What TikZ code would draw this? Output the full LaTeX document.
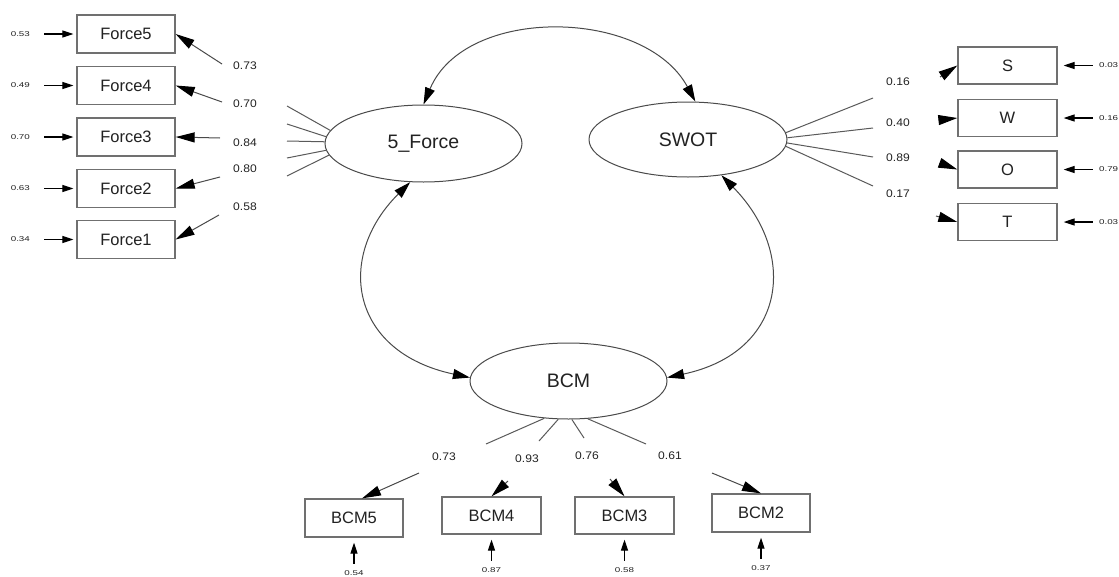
\documentclass[tikz,border=0pt]{standalone}
\usepackage{graphicx}
\usepackage{fontspec}
\setmainfont{Liberation Sans}
\usetikzlibrary{arrows.meta,shapes.geometric,calc}
\definecolor{boxline}{HTML}{707070}
\definecolor{edgeline}{HTML}{4A4A4A}
\definecolor{stubline}{HTML}{5A5A5A}
\definecolor{txt}{HTML}{222222}
\newcommand{\errlab}[1]{\scalebox{1.4}[1]{#1}}
\newcommand{\loadlab}[1]{\scalebox{1.1}[1]{#1}}
\begin{document}
\begin{tikzpicture}[x=1pt,y=-1pt,
  obsbox/.style={draw=boxline, line width=1.3pt, rectangle, minimum width=98pt, minimum height=38pt, inner sep=0pt, text=txt, font=\fontsize{16.5}{18}\selectfont},
  latent/.style={draw=edgeline, line width=1pt, ellipse, minimum width=197pt, minimum height=77pt, inner sep=0pt, text=txt, font=\fontsize{19.5}{21}\selectfont},
  curve/.style={draw=edgeline, line width=1pt, arrows={Triangle[length=17pt,width=10pt,color=black]-Triangle[length=17pt,width=10pt,color=black]}},
  stub/.style={draw=stubline, line width=1pt},
  load/.style={draw=edgeline, line width=1pt, arrows={-Triangle[length=19pt,width=10pt,color=black]}},
  err/.style={draw=black, line width=1.2pt, arrows={-Triangle[length=11pt,width=7pt]}},
  lodlab/.style={inner sep=0pt, text=txt, font=\fontsize{11}{12}\selectfont},
  errlabel/.style={inner sep=0pt, text=txt, font=\fontsize{7}{8}\selectfont}
]
\useasboundingbox (0,0) rectangle (1119,576);
\fill[white] (0,0) rectangle (1119,576);

% latent variables
\node[latent] (F) at (423.5,143.5) {5\_Force};
\node[latent, minimum width=198pt, minimum height=75pt] (S) at (688,139.5) {SWOT};
\node[latent, minimum height=76pt] (B) at (568.5,381) {BCM};

% 5_Force indicators
\node[obsbox] (f5) at (126,34) {Force5};
\node[obsbox] (f4) at (126,85.5) {Force4};
\node[obsbox] (f3) at (126,137) {Force3};
\node[obsbox] (f2) at (126,188.5) {Force2};
\node[obsbox] (f1) at (126,239.5) {Force1};

% SWOT indicators
\node[obsbox, minimum width=99pt, minimum height=37pt] (bxS) at (1007.5,65.5) {S};
\node[obsbox, minimum width=99pt, minimum height=37pt] (bxW) at (1007.5,118) {W};
\node[obsbox, minimum width=99pt, minimum height=37pt] (bxO) at (1007.5,169.5) {O};
\node[obsbox, minimum width=99pt, minimum height=37pt] (bxT) at (1007.5,222) {T};

% BCM indicators
\node[obsbox] (b5) at (354,518) {BCM5};
\node[obsbox, minimum width=99pt, minimum height=37pt] (b4) at (491.5,515.5) {BCM4};
\node[obsbox, minimum width=99pt, minimum height=37pt] (b3) at (624.5,515.5) {BCM3};
\node[obsbox] (b2) at (761,513) {BCM2};

% correlations
\draw[curve] (F.north) .. controls (465,5) and (645,8) .. (S.79);
\draw[curve] (F.251) .. controls (335,257) and (350,352) .. (B.178);
\draw[curve] (S.313) .. controls (798,253) and (787,352) .. (B.2);

% ---- 5_Force loadings
\coordinate (lf5) at (287,106);
\coordinate (lf4) at (287,124);
\coordinate (lf3) at (287,141);
\coordinate (lf2) at (287,158);
\coordinate (lf1) at (287,176);
\draw[stub] (F.172) -- (lf5);
\draw[stub] (F.176) -- (lf4);
\draw[stub] (F.179) -- (lf3);
\draw[stub] (F.184) -- (lf2);
\draw[stub] (F.187) -- (lf1);
\node[lodlab] (lb5) at (245,66) {\loadlab{0.73}};
\node[lodlab] (lb4) at (245,104) {\loadlab{0.70}};
\node[lodlab] (lb3) at (245,143) {\loadlab{0.84}};
\node[lodlab] (lb2) at (245,169) {\loadlab{0.80}};
\node[lodlab] (lb1) at (245,207) {\loadlab{0.58}};
\coordinate (af5) at (222,64);
\coordinate (af4) at (222,102);
\coordinate (af3) at (220,138);
\coordinate (af2) at (220,177);
\coordinate (af1) at (219,215);
\draw[load] (af5) -- (f5.east);
\draw[load] (af4) -- (f4.east);
\draw[load] (af3) -- (f3.east);
\draw[load] (af2) -- (f2.east);
\draw[load] (af1) -- (f1.east);

% 5_Force errors
\foreach \n/\v in {f5/0.53,f4/0.49,f3/0.70,f2/0.63,f1/0.34}{
  \coordinate (e\n) at ([xshift=-32pt]\n.west);
  \draw[err] (e\n) -- ([xshift=-3pt]\n.west);
  \node[errlabel] (el\n) at ([xshift=-56pt]\n.west) {\errlab{\v}};
}

% ---- SWOT loadings
\coordinate (ls1) at (873,98);
\coordinate (ls2) at (873,128);
\coordinate (ls3) at (873,157);
\coordinate (ls4) at (873,186);
\draw[stub] (S.4) -- (ls1);
\draw[stub] (S.1.5) -- (ls2);
\draw[stub] (S.358) -- (ls3);
\draw[stub] (S.356) -- (ls4);
\node[lodlab] (lbs1) at (898,82) {\loadlab{0.16}};
\node[lodlab] (lbs2) at (898,123) {\loadlab{0.40}};
\node[lodlab] (lbs3) at (898,158) {\loadlab{0.89}};
\node[lodlab] (lbs4) at (898,194) {\loadlab{0.17}};
\coordinate (as1) at (940,77);
\coordinate (as2) at (939,120);
\coordinate (as3) at (940,163);
\coordinate (as4) at (936,216);
\draw[load] (as1) -- (bxS.west);
\draw[load] (as2) -- (bxW.west);
\draw[load] (as3) -- (bxO.west);
\draw[load] (as4) -- (bxT.west);

% SWOT errors
\foreach \n/\v in {bxS/0.03,bxW/0.16,bxO/0.79,bxT/0.03}{
  \coordinate (e\n) at ([xshift=35pt]\n.east);
  \draw[err] (e\n) -- ([xshift=6pt]\n.east);
  \node[errlabel] (el\n) at ([xshift=51pt]\n.east) {\errlab{\v}};
}

% ---- BCM loadings
\coordinate (lc5) at (486,444);
\coordinate (lc4) at (539,441);
\coordinate (lc3) at (584,438);
\coordinate (lc2) at (646,444);
\draw[stub] (B.237) -- (lc5);
\draw[stub] (B.255) -- (lc4);
\draw[stub] (B.275) -- (lc3);
\draw[stub] (B.297) -- (lc2);
\node[lodlab] (lbc5) at (444,457) {\loadlab{0.73}};
\node[lodlab] (lbc4) at (527,459) {\loadlab{0.93}};
\node[lodlab] (lbc3) at (587,456) {\loadlab{0.76}};
\node[lodlab] (lbc2) at (670,456) {\loadlab{0.61}};
\coordinate (ac5) at (419,473);
\coordinate (ac4) at (508,481);
\coordinate (ac3) at (610,479);
\coordinate (ac2) at (712,473);
\draw[load] (ac5) -- ([xshift=8pt]b5.north);
\draw[load] (ac4) -- (b4.north);
\draw[load] (ac3) -- (b3.north);
\draw[load] (ac2) -- (b2.north);

% BCM errors
\foreach \n/\v in {b5/0.54,b4/0.87,b3/0.58,b2/0.37}{
  \coordinate (e\n) at ([yshift=-26pt]\n.south);
  \draw[err] (e\n) -- ([yshift=-5pt]\n.south);
  \node[errlabel] (el\n) at ([yshift=-35pt]\n.south) {\errlab{\v}};
}
\end{tikzpicture}
\end{document}
